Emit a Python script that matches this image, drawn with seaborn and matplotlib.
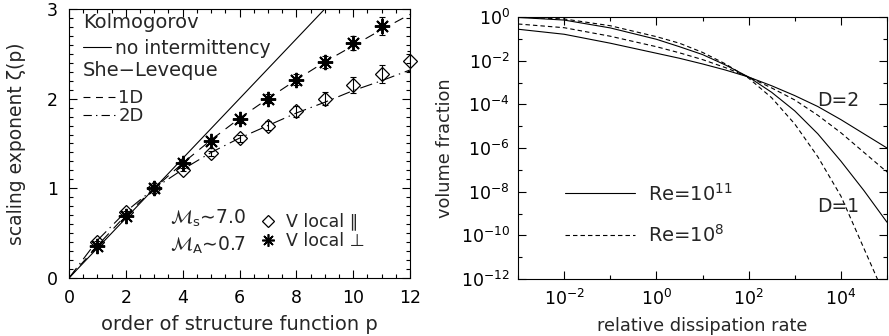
import matplotlib
matplotlib.use('Agg')
import numpy as np
import matplotlib.pyplot as plt
from matplotlib.lines import Line2D
from matplotlib.ticker import FixedLocator, MultipleLocator, LogFormatterMathtext, NullFormatter
import seaborn as sns

# ---- left panel: scaling exponents zeta(p)
p_kolmo = [0, 3, 6, 9, 12]
zeta_kolmo = [0.0, 1.0, 2.0, 3.0, 4.0]

p_model = [0, 1, 2, 3, 4, 5, 6, 7, 8, 9, 10, 11, 12]
zeta_sl_1d = [0.0, 0.36, 0.70, 1.0, 1.28, 1.54, 1.78, 2.0, 2.21, 2.41, 2.59, 2.77, 2.94]
zeta_sl_2d = [0.0, 0.42, 0.74, 1.0, 1.21, 1.40, 1.56, 1.70, 1.84, 1.96, 2.09, 2.20, 2.32]

p_para = [1, 2, 3, 4, 5, 6, 7, 8, 9, 10, 11, 12]
zeta_para = [0.40, 0.74, 1.0, 1.21, 1.39, 1.56, 1.70, 1.86, 2.0, 2.15, 2.28, 2.42]
err_para = [0.01, 0.01, 0.01, 0.02, 0.03, 0.04, 0.05, 0.06, 0.07, 0.09, 0.10, 0.11]

p_perp = [1, 2, 3, 4, 5, 6, 7, 8, 9, 10, 11]
zeta_perp = [0.36, 0.69, 1.0, 1.28, 1.53, 1.77, 2.0, 2.21, 2.41, 2.62, 2.81]
err_perp = [0.01, 0.01, 0.01, 0.02, 0.03, 0.04, 0.05, 0.06, 0.07, 0.08, 0.10]

# ---- right panel: volume fraction vs relative dissipation rate (log10 of values)
diss_rate = [1e-3, 1e-2, 1e-1, 1e0, 3.16, 1e1, 31.6, 1e2, 316, 1e3, 3160, 1e4, 31600, 1e5]
logfrac_d1_re8 = [0.0, -0.09, -0.40, -0.90, -1.20, -1.62, -2.15, -2.80, -3.70, -4.90, -6.40, -8.20, -10.6, -13.0]
logfrac_d1_re11 = [-0.02, -0.14, -0.50, -1.02, -1.36, -1.72, -2.20, -2.75, -3.45, -4.30, -5.35, -6.60, -7.95, -9.40]
logfrac_d2_re8 = [-0.32, -0.49, -0.88, -1.36, -1.64, -1.95, -2.32, -2.75, -3.25, -3.80, -4.50, -5.30, -6.20, -7.10]
logfrac_d2_re11 = [-0.56, -0.79, -1.20, -1.66, -1.89, -2.15, -2.43, -2.75, -3.15, -3.60, -4.10, -4.70, -5.35, -6.00]

sns.set_style('ticks')
plt.rcParams['font.family'] = ['DejaVu Sans']
plt.rcParams['mathtext.fontset'] = 'dejavusans'
plt.rcParams['lines.scale_dashes'] = False
plt.rcParams['axes.linewidth'] = 0.8
fs = 12.5

fig = plt.figure(figsize=(8.89, 3.36), dpi=100)
ax1 = fig.add_axes([69/889, 1-278/336, 341/889, 269/336])
ax2 = fig.add_axes([518/889, 1-279/336, 369/889, 262/336])

dash1 = (0, (7, 5))
dashdot1 = (0, (9, 3.5, 1, 3.5))

sns.lineplot(x=p_kolmo, y=zeta_kolmo, ax=ax1, color='k', lw=0.8, legend=False)
sns.lineplot(x=p_model, y=zeta_sl_1d, ax=ax1, color='k', lw=0.8, linestyle=dash1, legend=False)
sns.lineplot(x=p_model, y=zeta_sl_2d, ax=ax1, color='k', lw=0.8, linestyle=dashdot1, legend=False)

ax1.errorbar(p_para, zeta_para, yerr=err_para, fmt='none', ecolor='k', elinewidth=0.8, capsize=2, capthick=0.8)
ax1.errorbar(p_perp, zeta_perp, yerr=err_perp, fmt='none', ecolor='k', elinewidth=0.8, capsize=2, capthick=0.8)
ax1.plot(p_para, zeta_para, ls='none', marker='D', ms=7.5, mfc='none', mec='k', mew=0.9, clip_on=False)
ax1.plot(p_perp, zeta_perp, ls='none', marker=(8, 2, 0), ms=11, mec='k', mew=1.4)

ax1.set_xlim(0, 12)
ax1.set_ylim(0, 3)
ax1.xaxis.set_major_locator(MultipleLocator(2))
ax1.xaxis.set_minor_locator(MultipleLocator(0.5))
ax1.yaxis.set_major_locator(MultipleLocator(1))
ax1.yaxis.set_minor_locator(MultipleLocator(0.1))
ax1.set_xlabel('order of structure function p', fontsize=14, labelpad=6)
ax1.set_ylabel('scaling exponent ζ(p)', fontsize=13.5, labelpad=15)

# legend-like header texts
ax1.text(0.041, 0.948, 'Kolmogorov', transform=ax1.transAxes, fontsize=14, va='center', ha='left')
ax1.text(0.041, 0.773, 'She−Leveque', transform=ax1.transAxes, fontsize=14, va='center', ha='left')
h_k = [Line2D([], [], color='k', lw=0.8)]
leg_a = ax1.legend(h_k, ['no intermittency'], loc='center left', bbox_to_anchor=(0.041, 0.855),
                   frameon=False, fontsize=13.5, handlelength=1.5, handletextpad=0.2,
                   borderpad=0, borderaxespad=0)
ax1.add_artist(leg_a)
h_sl = [Line2D([], [], color='k', lw=0.8, ls=(0, (5, 4))), Line2D([], [], color='k', lw=0.8, ls=(0, (6, 3, 1, 3)))]
leg_b = ax1.legend(h_sl, ['1D', '2D'], loc='center left', bbox_to_anchor=(0.041, 0.636),
                   frameon=False, fontsize=13, handlelength=1.75, handletextpad=0.2, labelspacing=0.0,
                   borderpad=0, borderaxespad=0)
ax1.add_artist(leg_b)

ax1.text(0.296, 0.223, r'$\mathcal{M}_{\rm s}$∼7.0', transform=ax1.transAxes, fontsize=fs+1, va='center')
ax1.text(0.296, 0.123, r'$\mathcal{M}_{\rm A}$∼0.7', transform=ax1.transAxes, fontsize=fs+1, va='center')
h_mk = [Line2D([], [], ls='none', marker='D', ms=6, mfc='none', mec='k', mew=0.9),
        Line2D([], [], ls='none', marker=(8, 2, 0), ms=9, mec='k', mew=1.2)]
ax1.legend(h_mk, ['V local ∥', 'V local ⊥'], loc='center left', bbox_to_anchor=(0.559, 0.173),
           frameon=False, fontsize=fs, handlelength=1.0, handletextpad=0.5, labelspacing=0.1,
           borderpad=0, borderaxespad=0)

# ---- right panel
dash2 = (0, (3.2, 2.2))
frac = lambda v: [10.0 ** x for x in v]
sns.lineplot(x=diss_rate, y=frac(logfrac_d2_re11), ax=ax2, color='k', lw=0.8, legend=False)
sns.lineplot(x=diss_rate, y=frac(logfrac_d1_re11), ax=ax2, color='k', lw=0.8, legend=False)
sns.lineplot(x=diss_rate, y=frac(logfrac_d2_re8), ax=ax2, color='k', lw=0.8, linestyle=dash2, legend=False)
sns.lineplot(x=diss_rate, y=frac(logfrac_d1_re8), ax=ax2, color='k', lw=0.8, linestyle=dash2, legend=False)

ax2.set_xscale('log')
ax2.set_yscale('log')
ax2.set_xlim(1e-3, 1e5)
ax2.set_ylim(1e-12, 1e0)
ax2.xaxis.set_major_locator(FixedLocator([1e-2, 1e0, 1e2, 1e4]))
ax2.xaxis.set_minor_locator(FixedLocator([1e-3, 1e-1, 1e1, 1e3, 1e5]))
ax2.yaxis.set_major_locator(FixedLocator([1e-12, 1e-10, 1e-8, 1e-6, 1e-4, 1e-2, 1e0]))
ax2.yaxis.set_minor_locator(FixedLocator([1e-11, 1e-9, 1e-7, 1e-5, 1e-3, 1e-1]))
ax2.xaxis.set_major_formatter(LogFormatterMathtext())
ax2.yaxis.set_major_formatter(LogFormatterMathtext())
ax2.xaxis.set_minor_formatter(NullFormatter())
ax2.yaxis.set_minor_formatter(NullFormatter())
ax2.set_xlabel('relative dissipation rate', fontsize=12.8, labelpad=6)
ax2.set_ylabel('volume fraction', fontsize=12.8, labelpad=5)

ax2.text(0.811, 0.683, 'D=2', transform=ax2.transAxes, fontsize=fs+1, va='center')
ax2.text(0.811, 0.275, 'D=1', transform=ax2.transAxes, fontsize=fs+1, va='center')
h_re = [Line2D([], [], color='k', lw=0.8), Line2D([], [], color='k', lw=0.8, ls=dash2)]
ax2.legend(h_re, [r'Re=$10^{11}$', r'Re=$10^{8}$'], loc='center left', bbox_to_anchor=(0.127, 0.248),
           frameon=False, fontsize=14, handlelength=3.6, handletextpad=0.7, labelspacing=1.0,
           borderpad=0, borderaxespad=0)

for ax in (ax1, ax2):
    ax.tick_params(which='both', direction='in', top=True, right=True, width=0.8, colors='k', labelsize=fs)
    ax.tick_params(which='major', length=6)
    ax.tick_params(which='minor', length=3)
    for s in ax.spines.values():
        s.set_color('k')
ax1.tick_params(which='major', pad=8)
ax2.tick_params(axis='y', which='major', pad=6)
ax2.tick_params(axis='x', which='major', pad=7)

fig.savefig('out.png', dpi=100)
